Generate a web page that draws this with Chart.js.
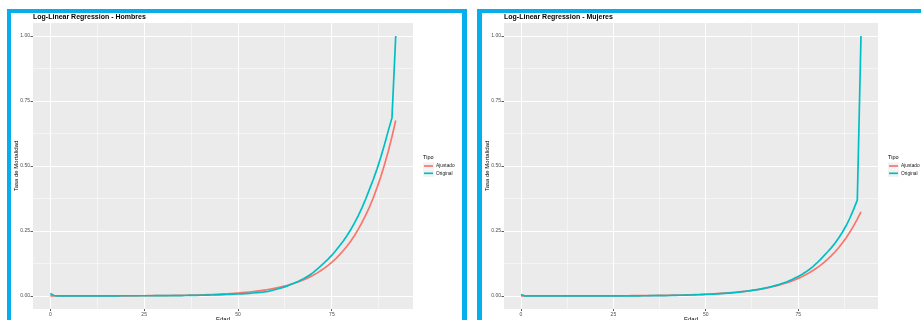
<!DOCTYPE html>
<html>
<head>
<meta charset="utf-8">
<script src="https://cdn.jsdelivr.net/npm/chart.js@4.4.1/dist/chart.umd.min.js"></script>
<style>
html,body{margin:0;padding:0;background:#fff;overflow:hidden;width:921px;height:320px}
.panel{position:absolute;top:9px;height:330px;border:4px solid #06aeec;border-bottom:none;background:#fff}
#pH{left:7px;width:451px;border-right-width:5px}
#pM{left:477px;width:460px;border-left-width:5px;border-right:none}
canvas{display:block}
</style>
</head>
<body>
<div class="panel" id="pH"><canvas id="chartH" width="451" height="311"></canvas></div>
<div class="panel" id="pM"><canvas id="chartM" width="439" height="311"></canvas></div>
<script>
// Edad 0..92
const ages = [0,1,2,3,4,5,6,7,8,9,10,11,12,13,14,15,16,17,18,19,20,21,22,23,24,25,26,27,28,29,30,31,32,33,34,35,36,37,38,39,40,41,42,43,44,45,46,47,48,49,50,51,52,53,54,55,56,57,58,59,60,61,62,63,64,65,66,67,68,69,70,71,72,73,74,75,76,77,78,79,80,81,82,83,84,85,86,87,88,89,90,91,92];

// Hombres
const hombresOriginal = [0.010,0.002,0.0006,0.0004,0.0003,0.0002,0.0002,0.0002,0.0002,0.0002,0.0002,0.0002,0.0003,0.0003,0.0004,0.0005,0.0006,0.0007,0.0008,0.0009,
  0.0010,0.0010,0.0010,0.0010,0.0010,0.0010,0.0010,0.0010,0.0011,0.0011,0.0012,0.0012,0.0013,0.0014,0.0015,0.0017,0.0019,0.0021,0.0023,0.0026,
  0.0029,0.0032,0.0035,0.0039,0.0043,0.0047,0.0052,0.0057,0.0063,0.0070,0.0077,0.0085,0.0094,0.0104,0.0115,0.0127,0.0141,0.0158,0.0180,0.0210,
  0.0250,0.0290,0.0330,0.0380,0.0440,0.0500,0.0560,0.0630,0.0710,0.0800,0.0900,0.1020,0.1150,0.1280,0.1420,0.1570,0.1740,0.1920,0.2110,0.2320,
  0.2550,0.2800,0.3080,0.3390,0.3730,0.4100,0.4470,0.4880,0.5330,0.5820,0.6350,0.6850,1.0000];
const hombresAjustado = [0.0001,0.0001,0.0001,0.0001,0.0001,0.0001,0.0001,0.0001,0.0002,0.0002,0.0002,0.0002,0.0002,0.0002,0.0003,0.0003,0.0003,0.0004,0.0004,0.0005,
  0.0006,0.0007,0.0007,0.0008,0.0009,0.0010,0.0011,0.0012,0.0013,0.0015,0.0016,0.0018,0.0020,0.0022,0.0024,0.0027,0.0029,0.0032,0.0036,0.0039,
  0.0043,0.0048,0.0053,0.0058,0.0064,0.0071,0.0078,0.0086,0.0095,0.0104,0.0115,0.0127,0.0139,0.0154,0.0169,0.0187,0.0206,0.0227,0.0250,0.0275,
  0.0303,0.0334,0.0368,0.0405,0.0447,0.0492,0.0542,0.0598,0.0659,0.0726,0.0800,0.0880,0.0970,0.1070,0.1180,0.1300,0.1430,0.1580,0.1740,0.1910,
  0.2110,0.2320,0.2560,0.2820,0.3110,0.3420,0.3770,0.4160,0.4580,0.5050,0.5560,0.6130,0.6750];

// Mujeres
const mujeresOriginal = [0.006,0.0008,0.0004,0.0003,0.0002,0.0002,0.0002,0.0002,0.0002,0.0002,0.0002,0.0002,0.0002,0.0002,0.0002,0.0002,0.0003,0.0003,0.0003,0.0003,
  0.0003,0.0003,0.0003,0.0004,0.0004,0.0004,0.0004,0.0005,0.0005,0.0006,0.0006,0.0007,0.0008,0.0009,0.0010,0.0011,0.0012,0.0014,0.0016,0.0018,
  0.0020,0.0022,0.0025,0.0028,0.0031,0.0035,0.0039,0.0044,0.0049,0.0054,0.0060,0.0067,0.0074,0.0082,0.0090,0.0099,0.0109,0.0121,0.0134,0.0149,
  0.0165,0.0183,0.0203,0.0224,0.0248,0.0274,0.0303,0.0335,0.0370,0.0410,0.0450,0.0500,0.0550,0.0610,0.0680,0.0750,0.0830,0.0920,0.1020,0.1130,
  0.1260,0.1400,0.1550,0.1700,0.1860,0.2040,0.2240,0.2460,0.2710,0.3000,0.3330,0.3690,1.0000];
const mujeresAjustado = [0.0001,0.0001,0.0001,0.0001,0.0001,0.0001,0.0001,0.0001,0.0001,0.0001,0.0002,0.0002,0.0002,0.0002,0.0002,0.0003,0.0003,0.0003,0.0003,0.0004,
  0.0004,0.0005,0.0005,0.0006,0.0006,0.0007,0.0008,0.0008,0.0009,0.0010,0.0011,0.0012,0.0013,0.0014,0.0016,0.0017,0.0019,0.0021,0.0023,0.0025,
  0.0027,0.0030,0.0033,0.0036,0.0039,0.0043,0.0047,0.0052,0.0057,0.0062,0.0068,0.0075,0.0082,0.0090,0.0098,0.0108,0.0118,0.0130,0.0142,0.0156,
  0.0171,0.0187,0.0205,0.0225,0.0247,0.0270,0.0296,0.0325,0.0356,0.0390,0.0428,0.0469,0.0515,0.0564,0.0619,0.0678,0.0744,0.0815,0.0894,0.0980,
  0.1074,0.1178,0.1291,0.1416,0.1552,0.1702,0.1866,0.2045,0.2242,0.2459,0.2695,0.2955,0.3240];

// ejes (ggplot: breaks + minor breaks)
const xBreaks = [0,25,50,75];
const xMinor = [12.5,37.5,62.5,87.5];
const yBreaks = [0,0.25,0.5,0.75,1];
const yMinor = [0.125,0.375,0.625,0.875];
const seriesNames = ['Ajustado','Original'];
const seriesColors = ['#F8766D','#00BFC4'];
const legendTitle = 'Tipo';

Chart.defaults.font.family = '"Liberation Sans", Arial, sans-serif';

// fondo gris del panel
const panelBg = {id:'panelBg', beforeDraw(chart){
    const {ctx, chartArea:a} = chart;
    ctx.save(); ctx.fillStyle = '#EBEBEB';
    ctx.fillRect(a.left, a.top, a.right - a.left, a.bottom - a.top);
    ctx.restore();
}};

// leyenda estilo ggplot a la derecha del panel
const ggLegend = {id:'ggLegend', afterDraw(chart){
    const {ctx, chartArea:a} = chart;
    const x = a.right + 10, mid = (a.top + a.bottom) / 2;
    ctx.save();
    ctx.textBaseline = 'middle'; ctx.textAlign = 'left';
    ctx.fillStyle = '#000'; ctx.font = '5.5px "Liberation Sans", Arial, sans-serif';
    ctx.fillText(legendTitle, x, mid - 9);
    chart.data.datasets.forEach((d, i) => {
        const y = mid + i * 7.3;
        ctx.fillStyle = '#F2F2F2'; ctx.fillRect(x, y - 3.5, 11, 7);
        ctx.strokeStyle = d.borderColor; ctx.lineWidth = 1.7;
        ctx.beginPath(); ctx.moveTo(x + 1, y); ctx.lineTo(x + 10, y); ctx.stroke();
        ctx.fillStyle = '#1a1a1a'; ctx.font = '4.8px "Liberation Sans", Arial, sans-serif';
        ctx.fillText(d.label, x + 13, y);
    });
    ctx.restore();
}};

function gridScale(breaks, minor, min, max, fmt, title, isX){
    const all = breaks.concat(minor).sort((a,b) => a - b);
    const major = c => c.tick && breaks.includes(c.tick.value);
    return {
        type:'linear', min:min, max:max, bounds:'data',
        afterBuildTicks: s => { s.ticks = all.map(v => ({value:v})); },
        afterFit: s => { if (isX) s.height = 15; else s.width = 22; },
        border:{display:false},
        grid:{color:'#FFFFFF', lineWidth: c => major(c) ? 1 : 0.5,
              tickColor: c => major(c) ? '#333333' : 'rgba(0,0,0,0)', tickLength: isX ? 2 : 2.5, tickWidth:0.8},
        ticks:{autoSkip:false, maxRotation:0, padding:0.5, color:'#4D4D4D', font:{size:5},
               callback: v => breaks.includes(v) ? fmt(v) : ''},
        title:{display:true, text:title, color:'#000', font:{size:6},
               padding: isX ? {top:0, bottom:0.8} : {top:2, bottom:0}}
    };
}

function makeChart(id, titleText, original, ajustado, padRight){
    const pts = arr => ages.map((a, i) => ({x:a, y:arr[i]}));
    new Chart(document.getElementById(id).getContext('2d'), {
        type:'line',
        data:{datasets:[
            {label:seriesNames[0], data:pts(ajustado), borderColor:seriesColors[0], borderWidth:1.7, pointRadius:0, order:2},
            {label:seriesNames[1], data:pts(original), borderColor:seriesColors[1], borderWidth:1.7, pointRadius:0, order:1}
        ]},
        options:{
            responsive:false, animation:false,
            layout:{padding:{left:0, right:padRight, top:0, bottom:0}},
            plugins:{
                legend:{display:false}, tooltip:{enabled:false},
                title:{display:true, text:titleText, align:'start', fullSize:false, color:'#000',
                       font:{size:7, weight:'bold', lineHeight:1}, padding:{top:1, bottom:2}}
            },
            scales:{
                x: gridScale(xBreaks, xMinor, -4.6, 96.6, v => String(v), 'Edad', true),
                y: gridScale(yBreaks, yMinor, -0.05, 1.05, v => v.toFixed(2), 'Tasa de Mortalidad', false)
            }
        },
        plugins:[panelBg, ggLegend]
    });
}

makeChart('chartH', 'Log-Linear Regression - Hombres', hombresOriginal, hombresAjustado, 49);
makeChart('chartM', 'Log-Linear Regression - Mujeres', mujeresOriginal, mujeresAjustado, 43);
</script>
</body>
</html>
